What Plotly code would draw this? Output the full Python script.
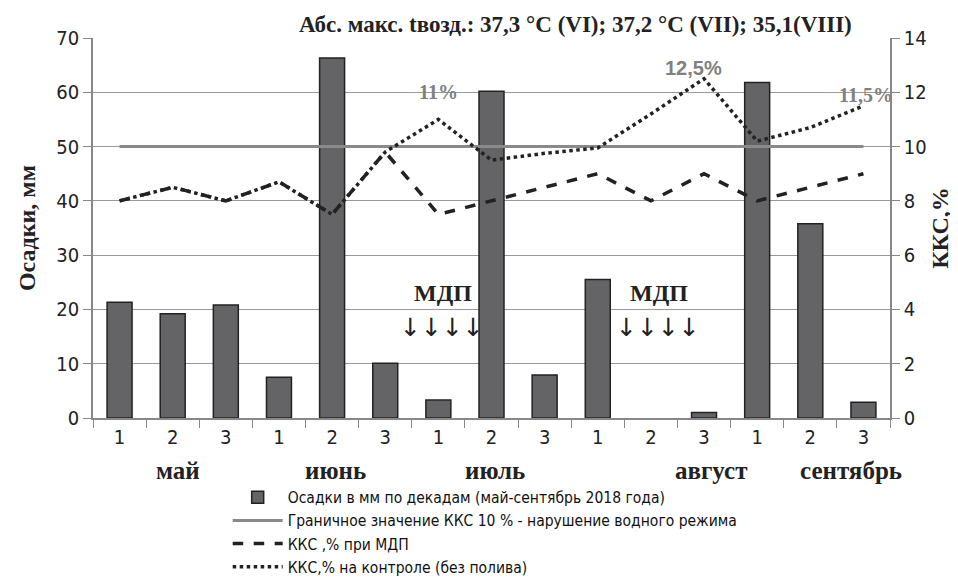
import plotly.graph_objects as go

decades = ["1", "2", "3", "1", "2", "3", "1", "2", "3", "1", "2", "3", "1", "2", "3"]
months = ["май", "июнь", "июль", "август", "сентябрь"]
precip = [21.3, 19.2, 20.8, 7.5, 66.3, 10.1, 3.3, 60.2, 7.9, 25.5, None, 1.0, 61.8, 35.8, 2.9]
kks_mdp = [8.0, 8.5, 8.0, 8.7, 7.5, 9.8, 7.5, 8.0, 8.5, 9.0, 8.0, 9.0, 8.0, 8.5, 9.0]
kks_control = [8.0, 8.5, 8.0, 8.7, 7.5, 9.8, 11.0, 9.5, 9.75, 9.95, 11.2, 12.5, 10.2, 10.7, 11.5]
threshold = [10] * 15

x = list(range(len(decades)))
serif = "Liberation Serif"
sans = "Liberation Sans"
narrow = "Liberation Sans Narrow, DejaVu Sans Condensed, Liberation Sans"

fig = go.Figure()
fig.add_trace(go.Bar(x=x, y=precip, width=0.47, marker=dict(color="#646466", line=dict(color="#222", width=1.5)),
                     name="Осадки в мм по декадам (май-сентябрь 2018 года)"))
fig.add_trace(go.Scatter(x=x, y=threshold, yaxis="y2", mode="lines", line=dict(color="#8a8a8a", width=3),
                         name="Граничное значение ККС 10 % - нарушение водного режима"))
fig.add_trace(go.Scatter(x=x, y=kks_mdp, yaxis="y2", mode="lines", line=dict(color="#222", width=3.5, dash="dash"),
                         name="ККС ,% при МДП"))
fig.add_trace(go.Scatter(x=x, y=kks_control, yaxis="y2", mode="lines", line=dict(color="#222", width=3.5, dash="dot"),
                         name="ККС,% на контроле (без полива)"))

ann = []
ann.append(dict(xref="paper", yref="paper", x=0.605, y=1.035, text="<b>Абс. макс. tвозд.: 37,3 °С (VI); 37,2 °С (VII); 35,1(VIII)</b>",
                showarrow=False, font=dict(family=serif, size=23, color="#222"), xanchor="center", yanchor="middle"))
month_x = [1.1, 4.07, 7.07, 11.13, 13.77]
for mx, m in zip(month_x, months):
    ann.append(dict(xref="x", yref="paper", x=mx, y=-0.137, text="<b>" + m + "</b>", showarrow=False,
                    font=dict(family=serif, size=25, color="#222"), yanchor="middle"))
for px, txt, fam in [(6.0, "11%", serif), (10.8, "12,5%", sans), (14.05, "11,5%", serif)]:
    yy = {"11%": 12.0, "12,5%": 12.9, "11,5%": 11.9}[txt]
    ann.append(dict(xref="x", yref="y2", x=px, y=yy, text="<b>" + txt + "</b>", showarrow=False,
                    font=dict(family=fam, size=20, color="#808080"), yanchor="middle"))
for mx in [6.09, 10.15]:
    ann.append(dict(xref="x", yref="y", x=mx, y=23, text="<b>МДП</b>", showarrow=False,
                    font=dict(family=serif, size=24, color="#222"), yanchor="middle"))
    ann.append(dict(xref="x", yref="y", x=mx - 0.02, y=16.6, text="↓↓↓↓", showarrow=False,
                    font=dict(family="DejaVu Sans", size=25, color="#222"), yanchor="middle"))

fig.update_layout(
    width=950, height=572,
    margin=dict(l=85, r=68, t=30, b=162, autoexpand=False),
    plot_bgcolor="white", paper_bgcolor="white",
    showlegend=True,
    legend=dict(x=0.169, y=-0.165, xanchor="left", yanchor="top", font=dict(family=narrow, size=15.5, color="#111"),
                itemwidth=50, tracegroupgap=0, bgcolor="rgba(0,0,0,0)"),
    xaxis=dict(range=[-0.5, 14.5], tickmode="array", tickvals=x, ticktext=decades, ticks="", showgrid=False,
               showline=True, linecolor="#888", linewidth=1.5, automargin=False,
               tickfont=dict(family=narrow, size=20, color="#222"),
               minor=dict(tickmode="linear", tick0=-0.5, dtick=1, ticks="outside", ticklen=8, tickcolor="#888", showgrid=False),
               zeroline=False),
    yaxis=dict(range=[0, 70], dtick=10, ticks="outside", ticklen=8, tickcolor="#888", showline=True, linecolor="#888",
               linewidth=1.5, showgrid=True, gridcolor="#999", gridwidth=1, zeroline=False, automargin=False,
               tickfont=dict(family=narrow, size=20, color="#222"),
               title=dict(text="<b>Осадки, мм</b>", font=dict(family=serif, size=24, color="#222"), standoff=14)),
    yaxis2=dict(range=[0, 14], dtick=2, overlaying="y", side="right", ticks="outside", ticklen=8, tickcolor="#888",
                showline=True, linecolor="#888", linewidth=1.5, showgrid=False, zeroline=False, automargin=False,
                tickfont=dict(family=narrow, size=20, color="#222"),
                title=dict(text="<b>ККС,%</b>", font=dict(family=serif, size=24, color="#222"), standoff=6)),
    annotations=ann,
)
fig.write_html("out.html")
